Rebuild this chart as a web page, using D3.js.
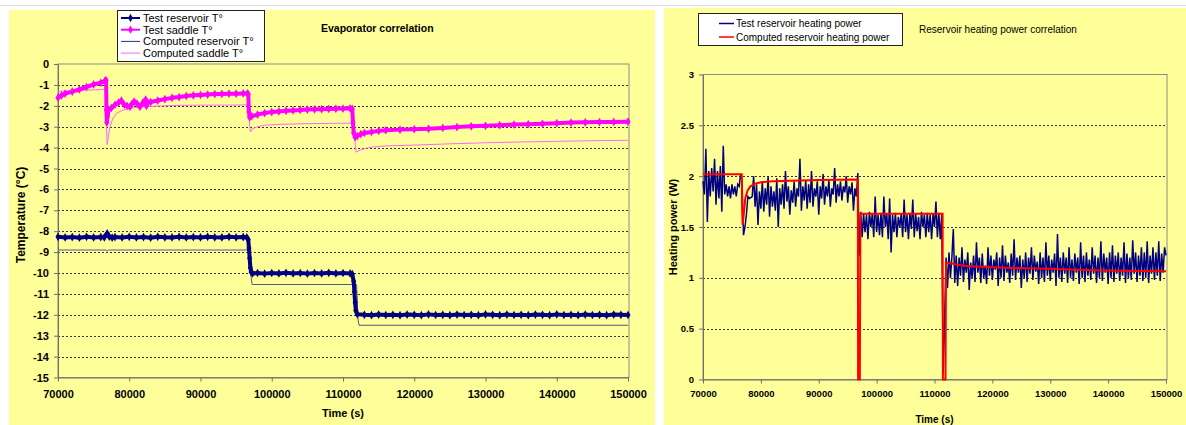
<!DOCTYPE html>
<html lang="en">
<meta charset="utf-8" />
<style>
  body { margin: 0; background: #fff; }
  svg { display: block; font-family: "Liberation Sans", Arial, sans-serif; }
</style>
<svg width="1186" height="425"></svg>
<script src="https://d3js.org/d3.v7.min.js"></script>
<script>
// ---------- data: evaporator correlation (left) ----------
var xTicks = [70000, 80000, 90000, 100000, 110000, 120000, 130000, 140000, 150000];
var tempTicks = [0, -1, -2, -3, -4, -5, -6, -7, -8, -9, -10, -11, -12, -13, -14, -15];
var powerTicks = [0, 0.5, 1, 1.5, 2, 2.5, 3];

var resTestTime = [70000, 71000, 72000, 73000, 74000, 75000, 76000, 76500, 76900, 77200, 77600, 78000,
  79000, 80000, 81000, 82000, 83000, 84000, 85000, 86000, 87000, 88000, 89000, 90000, 91000, 92000,
  93000, 94000, 95000, 96000, 96500, 96700, 96800, 96900, 97000, 97100, 97300, 98000, 99000, 100000,
  101000, 102000, 103000, 104000, 105000, 106000, 107000, 108000, 109000, 110000, 111000, 111300,
  111500, 111600, 111700, 111800, 112000, 113000, 114000, 115000, 116000, 117000, 118000, 119000,
  120000, 121000, 122000, 123000, 124000, 125000, 126000, 127000, 128000, 129000, 130000, 131000,
  132000, 133000, 134000, 135000, 136000, 137000, 138000, 139000, 140000, 141000, 142000, 143000,
  144000, 145000, 146000, 147000, 148000, 149000, 150000];
var resTestTemp = [-8.27, -8.3, -8.28, -8.31, -8.27, -8.3, -8.28, -8.3, -8.1, -8.26, -8.31, -8.28,
  -8.3, -8.27, -8.3, -8.28, -8.31, -8.27, -8.29, -8.3, -8.27, -8.3, -8.28, -8.3, -8.27, -8.29,
  -8.3, -8.27, -8.29, -8.28, -8.3, -8.4, -8.8, -9.3, -9.75, -9.95, -10.02, -10.0, -10.03, -10.0,
  -10.02, -9.99, -10.02, -10.0, -10.03, -10.0, -10.02, -9.99, -10.02, -10.0, -10.02, -10.05,
  -10.4, -10.9, -11.4, -11.8, -11.97, -12.0, -12.02, -11.99, -12.01, -12.0, -12.02, -11.99,
  -12.0, -12.02, -11.98, -12.01, -12.0, -12.02, -11.99, -12.01, -12.0, -12.02, -11.98, -12.0,
  -12.02, -11.99, -12.01, -12.0, -12.02, -11.99, -12.0, -12.02, -11.98, -12.01, -12.0, -12.02,
  -11.99, -12.01, -12.0, -12.02, -11.99, -12.0, -12.01];

var satTestTime = [70000, 70500, 71000, 72000, 73000, 74000, 75000, 76000, 76600, 76750, 76800,
  76850, 76950, 77100, 77500, 78000, 78500, 78900, 79300, 79700, 80100, 80400, 80700, 81100, 81500,
  81900, 82300, 82400, 82600, 83000, 84000, 85000, 86000, 87000, 88000, 89000, 90000, 91000, 92000,
  93000, 94000, 95000, 96000, 96600, 96700, 96800, 96900, 97200, 98000, 99000, 100000, 101000,
  102000, 103000, 104000, 105000, 106000, 107000, 108000, 109000, 110000, 111000, 111300, 111400,
  111500, 111700, 112000, 112500, 113000, 114000, 115000, 116000, 118000, 120000, 122000, 124000,
  126000, 128000, 130000, 132000, 134000, 136000, 138000, 140000, 142000, 144000, 146000, 148000,
  150000];
var satTestTemp = [-1.62, -1.5, -1.42, -1.32, -1.22, -1.1, -0.98, -0.9, -0.8, -0.78, -2.2,
  -2.8, -2.5, -2.2, -2.1, -1.95, -1.85, -1.75, -1.95, -2.0, -2.05, -1.9, -1.8, -1.9, -2.05,
  -1.85, -1.7, -2.0, -1.85, -1.82, -1.75, -1.68, -1.62, -1.58, -1.53, -1.5, -1.48, -1.46, -1.44,
  -1.43, -1.42, -1.42, -1.41, -1.4, -1.45, -2.3, -2.55, -2.5, -2.42, -2.35, -2.3, -2.27,
  -2.24, -2.22, -2.2, -2.18, -2.17, -2.16, -2.15, -2.14, -2.13, -2.12, -2.15, -2.8,
  -3.3, -3.5, -3.45, -3.35, -3.3, -3.25, -3.2, -3.17, -3.14, -3.12, -3.1, -3.06,
  -3.02, -2.98, -2.96, -2.93, -2.9, -2.88, -2.86, -2.83, -2.8, -2.79, -2.78, -2.77,
  -2.76];

var resCompTime = [70000, 76800, 76900, 77100, 96900, 97000, 97100, 97250, 111900, 112000, 112100, 112250, 150000];
var resCompTemp = [-8.9, -8.9, -8.95, -8.9, -8.9, -9.3, -10.2, -10.55, -10.55, -11.2, -12.2, -12.5, -12.5];

var satCompTime = [70000, 71000, 72000, 74000, 76000, 76750, 76800, 76900, 77100, 77300, 77700,
  78200, 79000, 79600, 80500, 82000, 84000, 87000, 90000, 96800, 96900, 97000, 97300, 98000, 99000,
  101000, 104000, 108000, 111600, 111700, 111850, 112200, 113000, 114000, 116000, 120000, 125000,
  130000, 135000, 140000, 145000, 150000];
var satCompTemp = [-1.3, -1.3, -1.28, -1.25, -1.22, -1.2, -3.0, -3.85, -3.4, -3.0, -2.6,
  -2.36, -2.22, -2.16, -2.1, -2.05, -2.01, -1.98, -1.97, -1.96, -2.9, -3.25, -3.1, -3.0, -2.93,
  -2.89, -2.86, -2.84, -2.83, -3.8, -4.22, -4.15, -4.05, -3.98, -3.92, -3.88, -3.82,
  -3.77, -3.73, -3.7, -3.67, -3.65];

// ---------- data: reservoir heating power (right) ----------
var powerStart = 70000, powerStep = 250;   // test samples every 250 s
var powerTest = [
  1.95, 1.82, 2.27, 1.55, 2.05, 1.8, 2.08, 1.85, 2.17, 1.72,
  2.05, 1.78, 2.1, 1.65, 2.3, 1.82, 1.92, 1.8, 1.9, 1.78,
  1.92, 1.82, 1.9, 1.8, 1.92, 1.9, 2.02, 1.95, 1.42, 1.5,
  1.62, 1.8, 1.78, 1.79, 1.8,
  2.0, 1.7, 1.92, 1.52, 1.85,
  1.68, 1.95, 1.65, 1.88, 1.72, 2.0, 1.6, 1.9, 1.7, 1.85,
  1.66, 1.98, 1.5, 1.88, 1.72, 1.92, 1.68, 2.05, 1.75, 1.9,
  1.62, 1.86, 1.74, 1.95, 1.7, 1.88, 1.8, 2.17, 1.66, 1.9,
  1.76, 1.96, 1.68, 1.92, 1.74, 2.05, 1.7, 1.88, 1.8, 1.95,
  1.62, 1.9, 1.78, 2.02, 1.72, 1.9, 1.8, 1.96, 1.7, 1.88,
  1.82, 2.08, 1.74, 1.92, 1.8, 1.95, 1.76, 1.9, 1.84, 2.0,
  1.74, 1.9, 1.82, 1.94, 1.66, 1.88, 1.8,
  2.03, 1.22, 1.65,
  1.4, 1.63, 1.45, 1.62, 1.38, 1.65, 1.5, 1.63, 1.4, 1.8,
  1.45, 1.62, 1.42, 1.64, 1.4, 1.8, 1.5, 1.63, 1.38, 1.78,
  1.25, 1.62, 1.45, 1.64, 1.4, 1.6, 1.5, 1.63, 1.4, 1.77,
  1.45, 1.62, 1.38, 1.64, 1.48, 1.77, 1.4, 1.63, 1.46, 1.6,
  1.38, 1.65, 1.5, 1.62, 1.4, 1.64, 1.45, 1.62, 1.38, 1.63,
  1.5, 1.75, 1.4, 1.64, 1.38, 1.62,
  0.05, 0.6, 1.2, 0.9, 1.25, 1.0, 1.2, 1.48, 0.95,
  1.22, 0.92, 1.2, 1.02, 1.3, 0.96, 1.18, 1.05, 1.25, 0.88,
  1.15, 1.0, 1.22, 0.96, 1.35, 1.05, 1.2, 0.95, 1.24, 1.0,
  1.12, 0.94, 1.3, 1.02, 1.22, 0.98, 1.18, 1.08, 1.25, 0.92,
  1.2, 1.0, 1.32, 0.97, 1.22, 1.05, 1.15, 0.95, 1.24, 1.02,
  1.38, 0.98, 1.2, 1.05, 1.22, 0.9, 1.18, 1.0, 1.25, 0.96,
  1.2, 1.04, 1.3, 0.98, 1.22, 1.06, 1.16, 0.94, 1.25, 1.0,
  1.2, 0.96, 1.35, 1.02, 1.22, 0.97, 1.18, 1.05, 1.24, 0.92,
  1.43, 1.0, 1.2, 0.96, 1.25, 1.04, 1.2, 0.95, 1.3, 1.0,
  1.18, 0.97, 1.24, 1.05, 1.2, 0.94, 1.35, 1.0, 1.22, 0.96,
  1.25, 1.02, 1.18, 0.98, 1.3, 1.04, 1.22, 0.95, 1.2, 1.0,
  1.36, 0.97, 1.24, 1.05, 1.2, 0.94, 1.25, 1.0, 1.32, 0.96,
  1.22, 1.04, 1.25, 0.97, 1.2, 1.02, 1.35, 0.95, 1.24, 1.0,
  1.2, 0.98, 1.37, 1.04, 1.25, 0.96, 1.22, 1.02, 1.3, 0.97,
  1.25, 1.0, 1.36, 0.95, 1.22, 1.04, 1.3, 0.98, 1.25, 1.02,
  1.36, 0.97, 1.24, 1.05, 1.3, 1.22];

var powerCompTime = [70000, 76700, 76750, 76850, 77000, 77300, 77700, 78200, 79000, 80000, 82000,
  85000, 90000, 96750, 96800, 97100, 97200, 111400, 111450, 111900, 112000, 113000, 115000, 118000,
  122000, 126000, 130000, 134000, 138000, 142000, 146000, 150000];
var powerComp = [2.02, 2.02, 1.7, 1.52, 1.6, 1.78, 1.86, 1.9, 1.925, 1.94, 1.95,
  1.955, 1.962, 1.968, 0, 0, 1.63, 1.63, 0, 0, 1.15, 1.14, 1.12, 1.11,
  1.1, 1.095, 1.09, 1.08, 1.075, 1.07, 1.068, 1.065];

// ---------- drawing ----------
var svg = d3.select("svg");
var zip = function(t, v) { return t.map(function(d, i) { return [d, v[i]]; }); };

svg.append("line").attr("x1", 0).attr("x2", 1186).attr("y1", 5.5).attr("y2", 5.5)
  .attr("stroke", "#dedede");

// panels
svg.append("rect").attr("x", 9).attr("y", 10).attr("width", 646).attr("height", 415).attr("fill", "#FFFF99");
svg.append("rect").attr("x", 664).attr("y", 8).attr("width", 522).attr("height", 417).attr("fill", "#FFFF99");

function drawFrame(x, y, gridVals, fmt, tickFont, cfg) {
  var g = svg.append("g");
  var r = x.range(), d = y.range();
  g.append("rect").attr("x", r[0]).attr("y", d[1]).attr("width", r[1] - r[0] + 1).attr("height", d[0] - d[1])
    .attr("fill", "none").attr("stroke", "#8c8c8c");
  g.selectAll(".grid").data(gridVals).enter().append("line")
    .attr("x1", r[0]).attr("x2", r[1])
    .attr("y1", function(v) { return Math.round(y(v)) + 0.5; })
    .attr("y2", function(v) { return Math.round(y(v)) + 0.5; })
    .attr("stroke", "#333").attr("stroke-dasharray", "2,2");

  var ax = g.append("g").attr("transform", "translate(0," + d[0] + ")")
    .call(d3.axisBottom(x).tickValues(xTicks).tickSize(4).tickSizeOuter(0).tickPadding(cfg.xPad)
      .tickFormat(function(v) { return String(v); }));
  var ay = g.append("g").attr("transform", "translate(" + r[0] + ",0)")
    .call(d3.axisLeft(y).tickValues(cfg.yTicks).tickSize(4).tickSizeOuter(0).tickPadding(cfg.yPad)
      .tickFormat(fmt));
  [ax, ay].forEach(function(a) {
    a.selectAll("path, line").attr("stroke", "#6e6e6e");
    a.selectAll("text").attr("font-family", null).attr("font-size", tickFont)
      .attr("font-weight", "bold").attr("fill", "#000");
  });
  return g;
}

// left chart
var xL = d3.scaleLinear().domain([70000, 150000]).range([58, 628]);
var yL = d3.scaleLinear().domain([-15, 0]).range([377.5, 64]);
drawFrame(xL, yL, tempTicks.filter(function(v) { return v < 0 && v > -15; }),
  function(v) { return String(v); }, 11, { yTicks: tempTicks, xPad: 9, yPad: 5 });

var lineL = d3.line().x(function(d) { return xL(d[0]); }).y(function(d) { return yL(d[1]); });

svg.append("path").datum(zip(resCompTime, resCompTemp)).attr("d", lineL)
  .attr("fill", "none").attr("stroke", "#55558f").attr("stroke-width", 1);
svg.append("path").datum(zip(satCompTime, satCompTemp)).attr("d", lineL)
  .attr("fill", "none").attr("stroke", "#ff66ff").attr("stroke-width", 1);

var diamond = d3.symbol().type(d3.symbolDiamond);
[[resTestTime, resTestTemp, "#000080"], [satTestTime, satTestTemp, "#ff00ff"]].forEach(function(s) {
  var pts = zip(s[0], s[1]);
  svg.append("path").datum(pts).attr("d", lineL)
    .attr("fill", "none").attr("stroke", s[2]).attr("stroke-width", 4).attr("stroke-linejoin", "round");
  svg.append("g").selectAll("path").data(pts).enter().append("path")
    .attr("d", diamond.size(22))
    .attr("transform", function(d) { return "translate(" + xL(d[0]) + "," + yL(d[1]) + ")"; })
    .attr("fill", s[2]);
});

svg.append("text").attr("x", 321).attr("y", 32).attr("font-size", 10.5).attr("font-weight", "bold")
  .text("Evaporator correlation");
svg.append("text").attr("x", 343).attr("y", 417).attr("text-anchor", "middle")
  .attr("font-size", 11).attr("font-weight", "bold").text("Time (s)");
svg.append("text").attr("transform", "translate(25,215) rotate(-90)").attr("text-anchor", "middle")
  .attr("font-size", 12).attr("font-weight", "bold").text("Temperature (°C)");

// left legend
var legL = svg.append("g");
legL.append("rect").attr("x", 117.5).attr("y", 10.5).attr("width", 147).attr("height", 51)
  .attr("fill", "#fff").attr("stroke", "#222");
var legLItems = [
  { name: "Test reservoir T°", color: "#000080", w: 2, mark: true },
  { name: "Test saddle T°", color: "#ff00ff", w: 2, mark: true },
  { name: "Computed reservoir T°", color: "#2d2d8a", w: 1, mark: false },
  { name: "Computed saddle T°", color: "#ff66ff", w: 1, mark: false }
];
legLItems.forEach(function(it, i) {
  var cy = 18 + i * 11.7;
  legL.append("line").attr("x1", 121).attr("x2", 140).attr("y1", cy).attr("y2", cy)
    .attr("stroke", it.color).attr("stroke-width", it.w);
  if (it.mark) legL.append("path").attr("d", diamond.size(20)).attr("transform", "translate(130.5," + cy + ")")
    .attr("fill", it.color);
  legL.append("text").attr("x", 143).attr("y", cy + 4).attr("font-size", 11).text(it.name);
});

// right chart
var xR = d3.scaleLinear().domain([70000, 150000]).range([703, 1166]);
var yR = d3.scaleLinear().domain([0, 3]).range([379.5, 74.5]);
drawFrame(xR, yR, [0.5, 1, 1.5, 2, 2.5], function(v) { return String(v); }, 9.5,
  { yTicks: powerTicks, xPad: 7, yPad: 5 });

var lineR = d3.line().x(function(d) { return xR(d[0]); }).y(function(d) { return yR(d[1]); });
svg.append("path").datum(powerTest.map(function(v, i) { return [powerStart + i * powerStep, v]; }))
  .attr("d", lineR).attr("fill", "none").attr("stroke", "#000080").attr("stroke-width", 1.5);
svg.append("path").datum(zip(powerCompTime, powerComp)).attr("d", lineR)
  .attr("fill", "none").attr("stroke", "#ff0000").attr("stroke-width", 2);

svg.append("text").attr("x", 919).attr("y", 33).attr("font-size", 10).text("Reservoir heating power correlation");
svg.append("text").attr("x", 934.5).attr("y", 423).attr("text-anchor", "middle")
  .attr("font-size", 10).attr("font-weight", "bold").text("Time (s)");
svg.append("text").attr("transform", "translate(677,227) rotate(-90)").attr("text-anchor", "middle")
  .attr("font-size", 11).attr("font-weight", "bold").text("Heating power (W)");

var legR = svg.append("g");
legR.append("rect").attr("x", 698.5).attr("y", 13.5).attr("width", 204).attr("height", 32)
  .attr("fill", "#fff").attr("stroke", "#222");
[["Test reservoir heating power", "#000080"], ["Computed reservoir heating power", "#ff0000"]].forEach(function(it, i) {
  var cy = 23.5 + i * 13.5;
  legR.append("line").attr("x1", 719).attr("x2", 734).attr("y1", cy).attr("y2", cy)
    .attr("stroke", it[1]).attr("stroke-width", 1.5);
  legR.append("text").attr("x", 736).attr("y", cy + 3.5).attr("font-size", 10).text(it[0]);
});
</script>
</html>
